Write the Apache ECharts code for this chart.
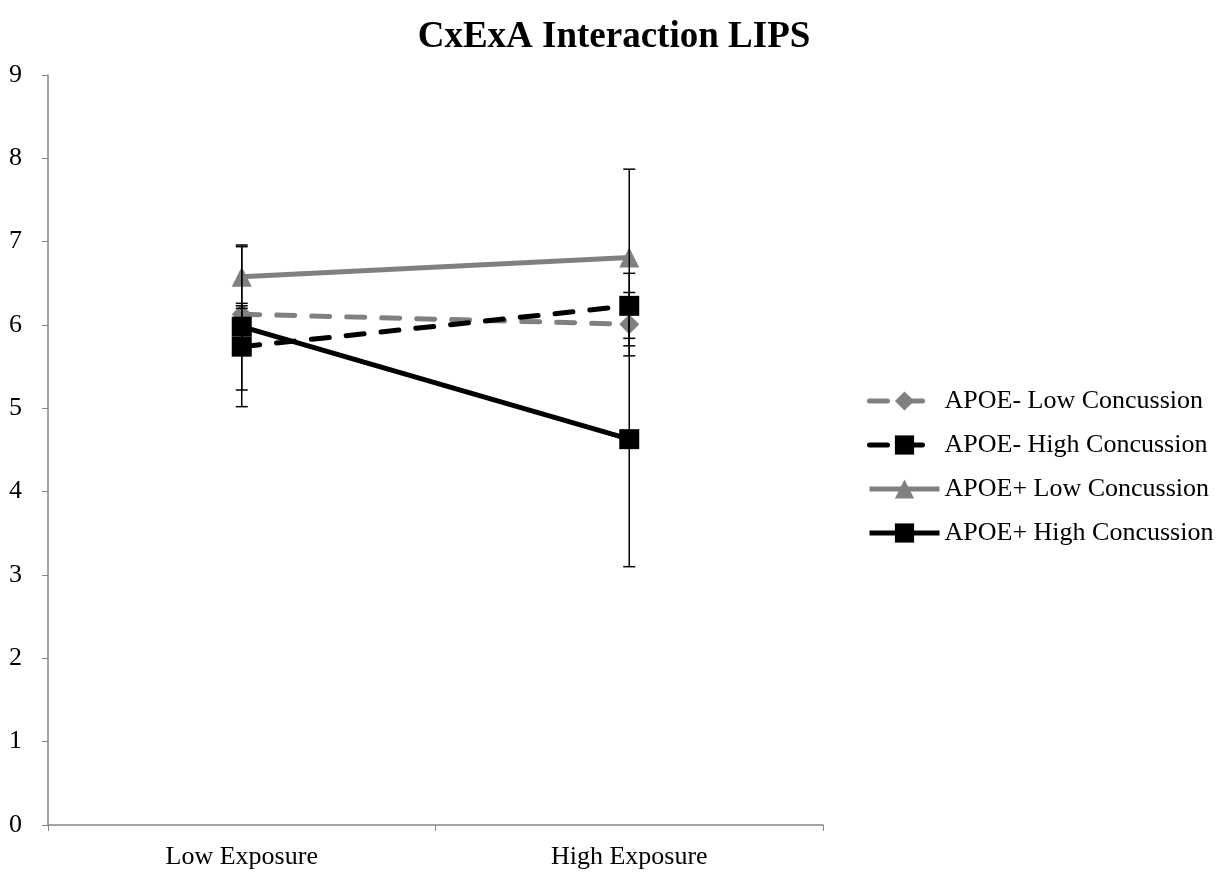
<!DOCTYPE html>
<html>
<head>
<meta charset="utf-8">
<script src="https://cdn.jsdelivr.net/npm/echarts@6/dist/echarts.min.js"></script>
<style>html,body{margin:0;padding:0;background:#fff}#c{width:1228px;height:875px}</style>
</head>
<body>
<div id="c"></div>
<script>
const categories = ['Low Exposure', 'High Exposure'];
const seriesNames = ['APOE- Low Concussion', 'APOE- High Concussion', 'APOE+ Low Concussion', 'APOE+ High Concussion'];
const apoeNegLow = [6.13, 6.01];
const apoeNegHigh = [5.74, 6.23];
const apoePosLow = [6.58, 6.81];
const apoePosHigh = [5.98, 4.63];
const errNegLow = [0.10, 0.38];
const errNegHigh = [0.52, 0.39];
const errPosLow = [0.38, 1.06];
const errPosHigh = [0.96, 1.53];
const yTicks = [0, 1, 2, 3, 4, 5, 6, 7, 8, 9];

const font = "'Liberation Serif', 'Times New Roman', serif";
const grey = '#808080';

function lineSeries(name, data, color, dashed, symbol, size) {
  return {
    name: name, type: 'line', data: data, z: 2,
    symbol: symbol, symbolSize: size,
    itemStyle: { color: color, borderWidth: 0 },
    lineStyle: { color: color, width: 5, type: dashed ? [18, 17] : 'solid', cap: dashed ? 'round' : 'butt' },
    animation: false
  };
}
function errSeries(values, errs) {
  return {
    type: 'custom', z: 5, silent: true, animation: false,
    encode: { x: 0, y: [1, 2] },
    data: values.map((v, i) => [i, v - errs[i], v + errs[i]]),
    renderItem: function (params, api) {
      const x = api.value(0);
      const lo = api.coord([x, api.value(1)]);
      const hi = api.coord([x, api.value(2)]);
      const hw = 6;
      const st = { stroke: '#000', lineWidth: 1.5 };
      return { type: 'group', children: [
        { type: 'line', shape: { x1: lo[0], y1: lo[1], x2: hi[0], y2: hi[1] }, style: st },
        { type: 'line', shape: { x1: lo[0] - hw, y1: lo[1], x2: lo[0] + hw, y2: lo[1] }, style: st },
        { type: 'line', shape: { x1: hi[0] - hw, y1: hi[1], x2: hi[0] + hw, y2: hi[1] }, style: st }
      ]};
    }
  };
}

const chart = echarts.init(document.getElementById('c'));
chart.setOption({
  backgroundColor: '#fff',
  animation: false,
  title: {
    text: 'CxExA Interaction LIPS', left: 'center', top: 14,
    textStyle: { fontFamily: font, fontSize: 37, fontWeight: 'bold', color: '#000' }
  },
  legend: {
    orient: 'vertical', left: 862, top: 383, itemGap: 18,
    itemWidth: 70, itemHeight: 24, itemStyle: { borderWidth: 0 },
    lineStyle: { width: 5 },
    data: seriesNames,
    textStyle: { fontFamily: font, fontSize: 26, color: '#000' }
  },
  grid: { left: 48, right: 405, top: 75, bottom: 50 },
  xAxis: {
    type: 'category', data: categories, boundaryGap: true,
    axisLine: { lineStyle: { color: '#868686', width: 1.5 } },
    axisTick: { show: true, length: 6, lineStyle: { color: '#868686' } },
    axisLabel: { fontFamily: font, fontSize: 26, color: '#000', margin: 19 },
    splitLine: { show: false }
  },
  yAxis: {
    type: 'value', min: yTicks[0], max: yTicks[yTicks.length - 1], interval: 1,
    axisLine: { show: true, lineStyle: { color: '#868686', width: 1.5 } },
    axisTick: { show: true, length: 6, lineStyle: { color: '#868686' } },
    axisLabel: { fontFamily: font, fontSize: 26, color: '#000', margin: 26 },
    splitLine: { show: false }
  },
  series: [
    lineSeries(seriesNames[0], apoeNegLow, grey, true, 'diamond', 20),
    lineSeries(seriesNames[1], apoeNegHigh, '#000', true, 'rect', 20),
    lineSeries(seriesNames[2], apoePosLow, grey, false, 'triangle', 20),
    lineSeries(seriesNames[3], apoePosHigh, '#000', false, 'rect', 20),
    errSeries(apoeNegLow, errNegLow),
    errSeries(apoeNegHigh, errNegHigh),
    errSeries(apoePosLow, errPosLow),
    errSeries(apoePosHigh, errPosHigh)
  ]
});
</script>
</body>
</html>
